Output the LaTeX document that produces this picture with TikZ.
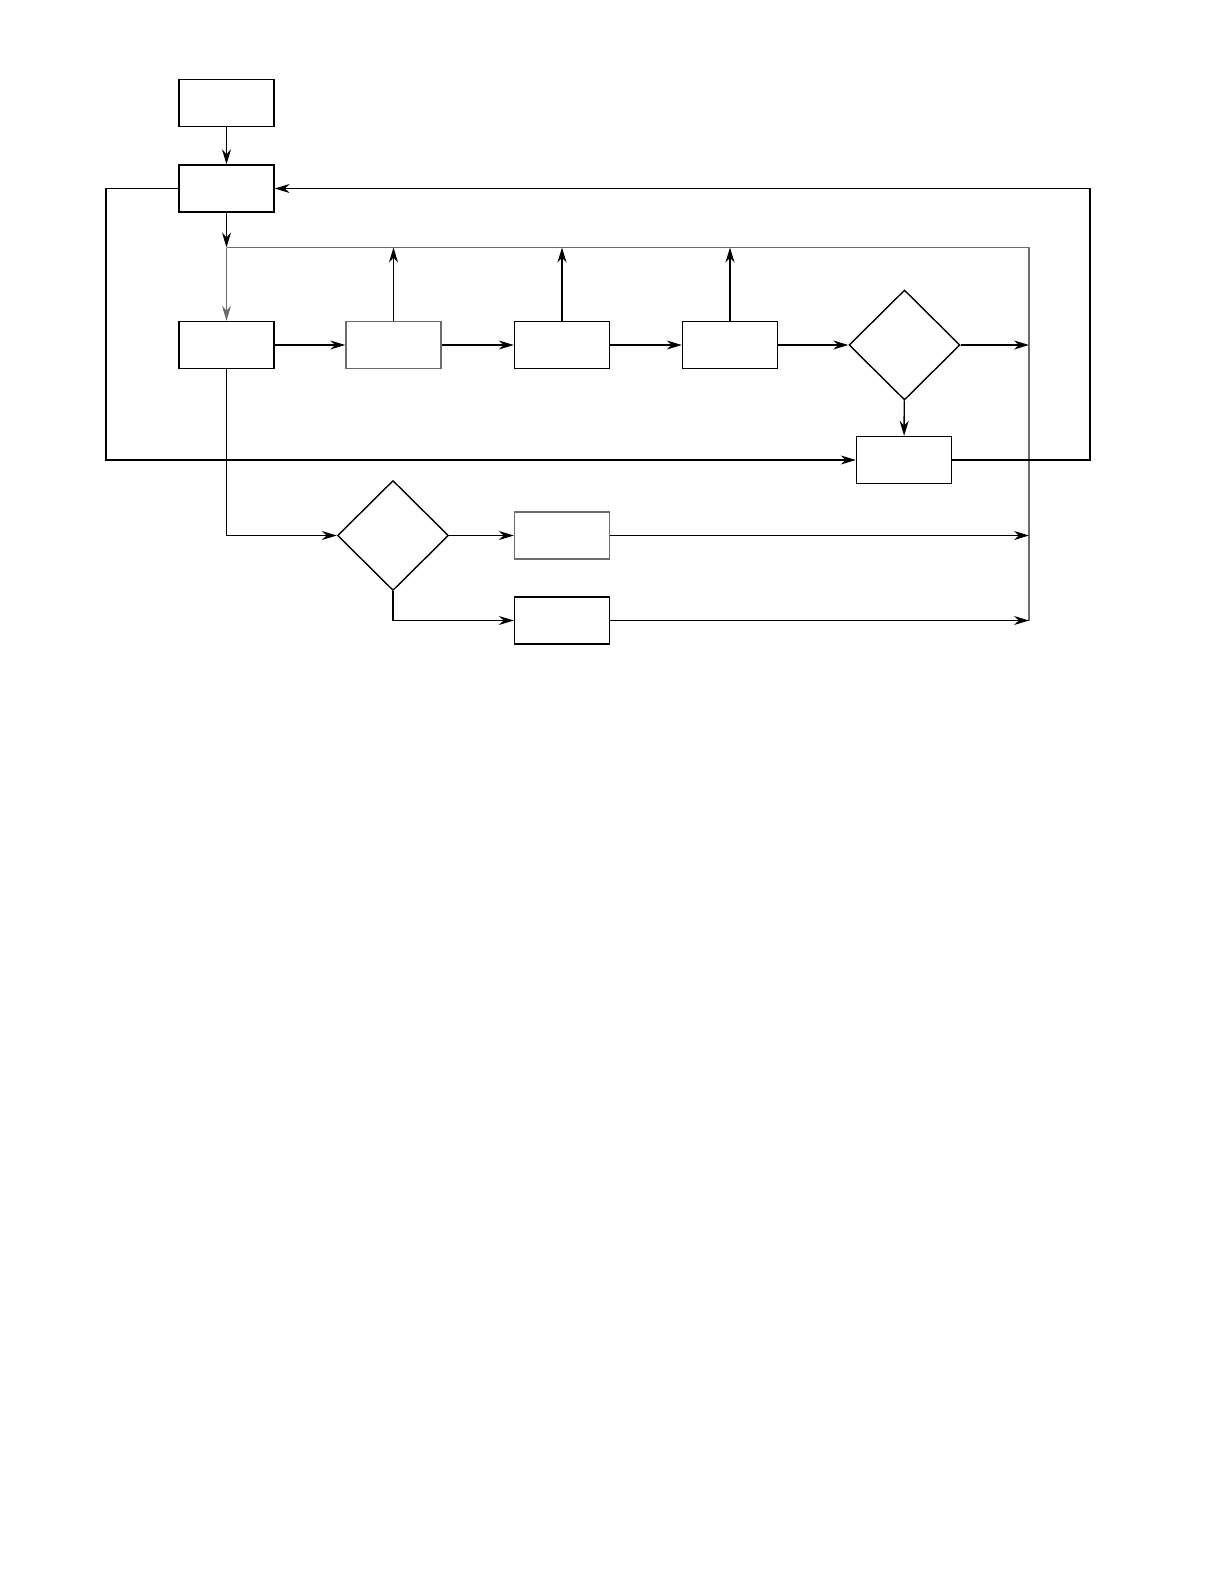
\documentclass[tikz,border=0pt]{standalone}
\usepackage{tikz}
\usetikzlibrary{arrows.meta,shapes.geometric}

\tikzset{
  blok/.style={draw, rectangle, minimum width=47.5bp, minimum height=23.5bp, inner sep=0pt},
  keuze/.style={draw, diamond, aspect=1, minimum width=55.5bp, minimum height=55bp, inner sep=0pt},
  pijl/.style={-{Stealth[length=7.5bp,width=4.5bp]}},
  grijs/.style={draw=black!58}
}

\begin{document}
\begin{tikzpicture}[x=0.5bp,y=-0.5bp,line width=0.7bp]
  \useasboundingbox (0,0) rectangle (1224,1584);
  % boxes
  \node[blok] (A) at (226.5,103) {}; \node[blok] (B) at (226.5,188.5) {};
  \node[blok] (C) at (226.5,345) {}; \node[blok,grijs] (D) at (393.5,345) {};
  \node[blok] (E) at (562,345) {}; \node[blok] (F) at (730,345) {};
  \node[keuze] (G) at (904.5,345) {}; \node[blok] (H) at (904,460) {};
  \node[keuze] (I) at (393,535.5) {};
  \node[blok,grijs] (J) at (562,535.5) {}; \node[blok] (K) at (562,620.5) {};
  % bus and loop corners
  \coordinate (bl) at (226.5,247.5); \coordinate (br) at (1029,247.5); \coordinate (bb) at (1029,620.5);
  \coordinate (lk) at (106,460); \coordinate (rk) at (1090,460);
  \draw[grijs] (bl) -- (br) -- (bb);
  \draw[pijl,grijs] (bl) -- (C);
  \draw[pijl] (A) -- (B); \draw[pijl] (B) -- (bl);
  \draw[pijl] (C) -- (D); \draw[pijl] (D) -- (E); \draw[pijl] (E) -- (F); \draw[pijl] (F) -- (G);
  \draw[pijl] (D) -- (D |- bl); \draw[pijl] (E) -- (E |- bl); \draw[pijl] (F) -- (F |- bl);
  \draw[pijl] (G) -- (G -| br); \draw[pijl] (G) -- (H);
  \draw[pijl] (B.west) -| (lk) -- (H.west);
  \draw[pijl] (H.east) -- (rk) |- (B.east);
  \draw[pijl] (C.south) |- (I.west); \draw[pijl] (I) -- (J); \draw[pijl] (I.south) |- (K.west);
  \draw[pijl] (J) -- (J -| br); \draw[pijl] (K) -- (K -| br);
\end{tikzpicture}
\end{document}
